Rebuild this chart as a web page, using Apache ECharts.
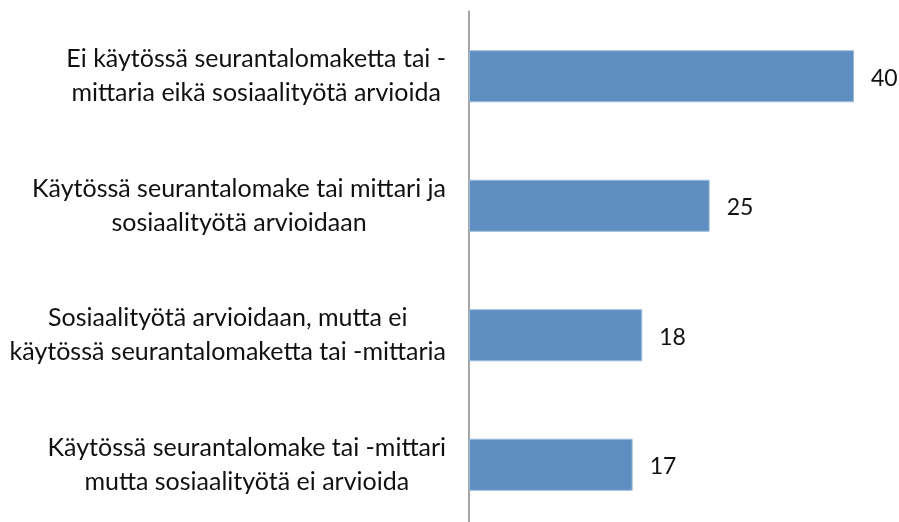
<!DOCTYPE html>
<html>
<head>
<meta charset="utf-8">
<script src="https://cdn.jsdelivr.net/npm/echarts@6/dist/echarts.min.js"></script>
<style>html,body{margin:0;padding:0;background:#fff;overflow:hidden}#c{width:899px;height:530px}</style>
</head>
<body>
<div id="c"></div>
<script>
const categories = [
  "Ei käytössä seurantalomaketta tai -\nmittaria eikä sosiaalityötä arvioida",
  "Käytössä seurantalomake tai mittari ja\nsosiaalityötä arvioidaan",
  "Sosiaalityötä arvioidaan, mutta ei\nkäytössä seurantalomaketta tai -mittaria",
  "Käytössä seurantalomake tai -mittari\nmutta sosiaalityötä ei arvioida"
];
const values = [40, 25, 18, 17];

const chart = echarts.init(document.getElementById('c'), null, {renderer: 'canvas'});
chart.setOption({
  animation: false,
  grid: {left: 469, top: 11.5, width: 385, height: 518, containLabel: false},
  xAxis: {type: 'value', min: 0, max: 40, show: false},
  yAxis: {
    type: 'category',
    inverse: true,
    data: categories,
    axisLine: {show: true, lineStyle: {color: '#A6A6A6', width: 2}},
    axisTick: {show: false},
    axisLabel: {
      margin: 23,
      align: 'right',
      formatter: function (v) {
        return v.split('\n').map(function (s) { return '{c|' + s + '}'; }).join('\n');
      },
      rich: {
        c: {align: 'center', fontFamily: 'Lato', fontSize: 25, lineHeight: 34, color: '#111'}
      }
    }
  },
  series: [{
    type: 'bar',
    data: values,
    barCategoryGap: '59.8%',
    itemStyle: {color: '#5E8FC0', borderColor: '#9DBBDA', borderWidth: 1},
    label: {
      show: true,
      position: 'right',
      distance: 17,
      offset: [0, 2],
      fontFamily: 'Lato',
      fontSize: 23,
      color: '#111'
    }
  }]
});
</script>
</body>
</html>
